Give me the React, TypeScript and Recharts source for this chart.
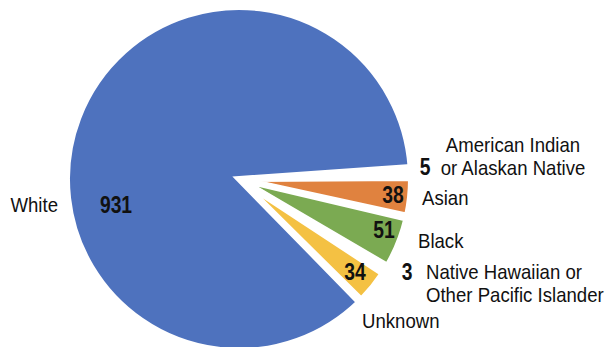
import React from 'react';
import { PieChart, Pie, Cell } from 'recharts';

const categories = [
  'American Indian or Alaskan Native',
  'Asian',
  'Black',
  'Native Hawaiian or Other Pacific Islander',
  'Unknown',
  'White',
];
const counts = [5, 38, 51, 3, 34, 931];
const nameLines = [
  ['American Indian', 'or Alaskan Native'],
  ['Asian'],
  ['Black'],
  ['Native Hawaiian or', 'Other Pacific Islander'],
  ['Unknown'],
  ['White'],
];

const COLORS = ['#A5A5A5', '#E0823F', '#7BAA52', '#264478', '#F4C143', '#4E72BE'];
const FONT = "'Liberation Sans', Arial, sans-serif";

// where the texts sit, relative to the pie centre
const valueSpot = [[186, -12], [154, 16], [145, 51], [168, 93], [116, 93], [-123, 26]];
const nameSpot: [number, number, string][] = [
  [274, -34, 'middle'],
  [183, 19, 'start'],
  [179, 62, 'start'],
  [187, 93, 'start'],
  [123, 142, 'start'],
  [-181, 26, 'end'],
];

const data = categories.map((name, i) => ({ name, value: counts[i] }));

// narrow the type a bit, the original uses a condensed face
const Narrow = ({ x, y, sx, children, ...rest }: any) => (
  <text transform={`translate(${x},${y}) scale(${sx},1)`} x={0} y={0} dominantBaseline="central"
    fontFamily={FONT} fill="#111" {...rest}>
    {children}
  </text>
);

const renderLabel = (props: any) => {
  const { cx, cy, index, value } = props;
  const [vx, vy] = valueSpot[index];
  const [nx, ny, anchor] = nameSpot[index];
  return (
    <g key={index}>
      <Narrow x={cx + vx} y={cy + vy} sx={0.84} textAnchor="middle" fontWeight="bold" fontSize={23}>
        {value}
      </Narrow>
      {nameLines[index].map((line, j) => (
        <Narrow key={j} x={cx + nx} y={cy + ny + j * 23} sx={0.93} textAnchor={anchor} fontSize={20}>
          {line}
        </Narrow>
      ))}
    </g>
  );
};

export default function App() {
  return (
    <div style={{ position: 'absolute', left: 0, top: 0, background: '#fff' }}>
      <PieChart width={610} height={347} margin={{ top: 0, right: 0, bottom: 0, left: 0 }}>
        <Pie
          data={data}
          dataKey="value"
          nameKey="name"
          cx={239}
          cy={179}
          outerRadius={172}
          startAngle={3}
          endAngle={-357}
          paddingAngle={1}
          stroke="#fff"
          strokeWidth={6}
          labelLine={false}
          label={renderLabel}
          isAnimationActive={false}
        >
          {data.map((_, i) => <Cell key={i} fill={COLORS[i]} />)}
        </Pie>
      </PieChart>
    </div>
  );
}
